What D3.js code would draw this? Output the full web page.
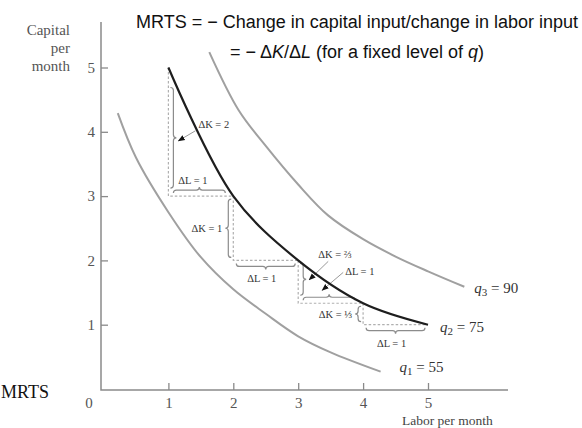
<!DOCTYPE html>
<html>
<head>
<meta charset="utf-8">
<script src="https://cdn.jsdelivr.net/npm/d3@7"></script>
<style>
  html, body { margin: 0; padding: 0; background: #fff; }
  svg { display: block; }
</style>
</head>
<body>
<svg id="chart" width="582" height="428"></svg>
<script>
// ---- data ----
const laborQ2   = [1, 2, 3, 4, 5];
const capitalQ2 = [5, 3, 2, 4/3, 1];
const laborQ1   = [0.22, 0.5, 1, 1.5, 2, 2.5, 3, 3.5, 4.27];
const capitalQ1 = [4.29, 3.6, 2.75, 2.05, 1.55, 1.17, 0.82, 0.57, 0.27];
const laborQ3   = [1.63, 2.08, 2.5, 3, 3.46, 4, 4.5, 5, 5.56];
const capitalQ3 = [5.24, 4.34, 3.78, 3.18, 2.7, 2.33, 2.06, 1.83, 1.59];
const isoSubs   = ["1", "2", "3"];
const isoValues = [55, 75, 90];
const deltaKLabels = ["ΔK = 2", "ΔK = 1", "ΔK = ⅔", "ΔK = ⅓"];
const deltaLLabels = ["ΔL = 1", "ΔL = 1", "ΔL = 1", "ΔL = 1"];
const xTicks = [1, 2, 3, 4, 5];
const yTicks = [1, 2, 3, 4, 5];
const titleLine1 = "MRTS = − Change in capital input/change in labor input";

// ---- setup ----
const svg = d3.select("#chart");
const serif = "'Liberation Serif', 'DejaVu Serif', serif";
const sans = "'Liberation Sans', Arial, sans-serif";
const x = d3.scaleLinear().domain([0, 5]).range([103.5, 428]);
const y = d3.scaleLinear().domain([0, 5]).range([389, 67.5]);

const defs = svg.append("defs");
defs.append("marker").attr("id", "arr")
  .attr("viewBox", "0 0 10 10").attr("refX", 9).attr("refY", 5)
  .attr("markerWidth", 7).attr("markerHeight", 7)
  .attr("markerUnits", "userSpaceOnUse").attr("orient", "auto")
  .append("path").attr("d", "M0,1 L10,5 L0,9 z").attr("fill", "#111");

// ---- axes ----
const axisColor = "#8a8a8a";
svg.append("path").attr("d", "M101,22 V390 H508")
  .attr("fill", "none").attr("stroke", axisColor).attr("stroke-width", 1.5);

const gy = svg.append("g").attr("transform", "translate(101,0)")
  .call(d3.axisLeft(y).tickValues(yTicks).tickSize(-7).tickPadding(6).tickFormat(d3.format("d")));
const gx = svg.append("g").attr("transform", "translate(0,390)")
  .call(d3.axisBottom(x).tickValues(xTicks).tickSize(-7).tickPadding(7).tickFormat(d3.format("d")));
[gy, gx].forEach(g => {
  g.select(".domain").remove();
  g.selectAll(".tick line").attr("stroke", axisColor).attr("stroke-width", 1.3);
  g.selectAll(".tick text").attr("font-family", serif).attr("font-size", 15)
    .attr("fill", "#555");
});
svg.append("text").attr("x", 89).attr("y", 408).attr("text-anchor", "middle")
  .attr("font-family", serif).attr("font-size", 15).attr("fill", "#555").text("0");

// axis titles
const yt = svg.append("text").attr("font-family", serif).attr("font-size", 15)
  .attr("fill", "#555").attr("text-anchor", "end");
["Capital", "per", "month"].forEach((t, i) =>
  yt.append("tspan").attr("x", 70).attr("y", 35 + i * 18).text(t));
svg.append("text").attr("x", 402).attr("y", 425).attr("font-family", serif)
  .attr("font-size", 13.5).attr("fill", "#444").text("Labor per month");
svg.append("text").attr("x", 1).attr("y", 398).attr("font-family", serif)
  .attr("font-size", 18).attr("fill", "#111").text("MRTS");

// ---- title ----
svg.append("text").attr("x", 357).attr("y", 28).attr("text-anchor", "middle")
  .attr("font-family", sans).attr("font-size", 18).attr("fill", "#111").text(titleLine1);
const t2 = svg.append("text").attr("x", 357).attr("y", 58).attr("text-anchor", "middle")
  .attr("font-family", sans).attr("font-size", 18).attr("fill", "#111");
t2.append("tspan").text("= − Δ");
t2.append("tspan").attr("font-style", "italic").text("K");
t2.append("tspan").text("/Δ");
t2.append("tspan").attr("font-style", "italic").text("L");
t2.append("tspan").text(" (for a fixed level of ");
t2.append("tspan").attr("font-style", "italic").text("q");
t2.append("tspan").text(")");

// ---- step annotations (dashed boxes + braces) ----
function braceV(bx, y1, y2, d, w) {
  const ym = (y1 + y2) / 2;
  return `M${bx - d * w},${y1} Q${bx},${y1} ${bx},${y1 + w} L${bx},${ym - w} ` +
         `Q${bx},${ym} ${bx + d * w},${ym} Q${bx},${ym} ${bx},${ym + w} ` +
         `L${bx},${y2 - w} Q${bx},${y2} ${bx - d * w},${y2}`;
}
function braceH(by, x1, x2, d, w) {
  const xm = (x1 + x2) / 2;
  return `M${x1},${by - d * w} Q${x1},${by} ${x1 + w},${by} L${xm - w},${by} ` +
         `Q${xm},${by} ${xm},${by + d * w} Q${xm},${by} ${xm + w},${by} ` +
         `L${x2 - w},${by} Q${x2},${by} ${x2},${by - d * w}`;
}
const ann = svg.append("g");
const annFont = 10.5;
for (let i = 0; i < laborQ2.length - 1; i++) {
  const x0 = x(laborQ2[i]), y0 = y(capitalQ2[i]);
  const x1 = x(laborQ2[i + 1]), y1 = y(capitalQ2[i + 1]);
  const ym = (y0 + y1) / 2, xm = (x0 + x1) / 2;
  ann.append("path").attr("d", `M${x0},${y0} V${y1} H${x1}`)
    .attr("fill", "none").attr("stroke", "#b0b0b0").attr("stroke-width", 1.2)
    .attr("stroke-dasharray", "2.5,2");
  const inside = i % 2 === 0;
  const bstyle = s => s.attr("fill", "none").attr("stroke", "#8c8c8c").attr("stroke-width", 1.2);
  if (inside) {
    const top = i === 0 ? y0 + 20 : y0 + 3;
    ann.append("path").attr("d", braceV(x0 + 5, top, y1 - 8, 1, 3)).call(bstyle);
    ann.append("path").attr("d", braceH(y1 - 6, x0 + 5, x1 - 8, -1, 3)).call(bstyle);
  } else {
    ann.append("path").attr("d", braceV(x0 - 5, y0 + 3, y1 - 3, -1, 3)).call(bstyle);
    ann.append("path").attr("d", braceH(y1 + 6, x0 + 3, x1 - 3, 1, 3)).call(bstyle);
  }
  const txt = (tx, ty, s, anchor) => ann.append("text").attr("x", tx).attr("y", ty)
    .attr("text-anchor", anchor).attr("font-family", serif).attr("font-size", annFont)
    .attr("fill", "#333").text(s);
  const lead = (ax, ay, bx, by) => ann.append("line")
    .attr("x1", ax).attr("y1", ay).attr("x2", bx).attr("y2", by)
    .attr("stroke", "#999").attr("stroke-width", 1).attr("marker-end", "url(#arr)");
  if (i === 0) {
    txt(x0 + 30, ym - 4, deltaKLabels[i], "start");
    lead(x0 + 27, ym - 1, x0 + 10, ym + 9);
    txt(xm - 8, y1 - 12, deltaLLabels[i], "middle");
  } else if (i === 2) {
    txt(x0 + 20, y0 - 2, deltaKLabels[i], "start");
    lead(x0 + 30, y0 + 1, x0 + 11, ym - 2);
    txt(x0 + 47, y0 + 15, deltaLLabels[i], "start");
    lead(x0 + 45, y0 + 12, x0 + 24, y1 - 13);
  } else {
    txt(x0 - 11, ym + 4, deltaKLabels[i], "end");
    txt(xm - 4, y1 + 22, deltaLLabels[i], "middle");
  }
}

// ---- isoquants ----
const line = d3.line().x(d => x(d[0])).y(d => y(d[1])).curve(d3.curveCatmullRom.alpha(0.5));
const q1 = laborQ1.map((l, i) => [l, capitalQ1[i]]);
const q2 = laborQ2.map((l, i) => [l, capitalQ2[i]]);
const q3 = laborQ3.map((l, i) => [l, capitalQ3[i]]);
svg.append("path").attr("d", line(q1)).attr("fill", "none").attr("stroke", "#a0a0a0").attr("stroke-width", 2);
svg.append("path").attr("d", line(q3)).attr("fill", "none").attr("stroke", "#a0a0a0").attr("stroke-width", 2);
svg.append("path").attr("d", line(q2)).attr("fill", "none").attr("stroke", "#1e1e1e").attr("stroke-width", 2.2);

// isoquant labels
const ends = [q1[q1.length - 1], q2[q2.length - 1], q3[q3.length - 1]];
const labOff = [[19, 0], [12, 7], [10, 6]];
ends.forEach((e, i) => {
  const t = svg.append("text").attr("x", x(e[0]) + labOff[i][0]).attr("y", y(e[1]) + labOff[i][1])
    .attr("font-family", serif).attr("font-size", 15).attr("fill", "#333");
  t.append("tspan").attr("font-style", "italic").text("q");
  t.append("tspan").attr("font-size", 11).attr("dy", 3).text(isoSubs[i]);
  t.append("tspan").attr("dy", -3).text(" = " + isoValues[i]);
});
</script>
</body>
</html>
